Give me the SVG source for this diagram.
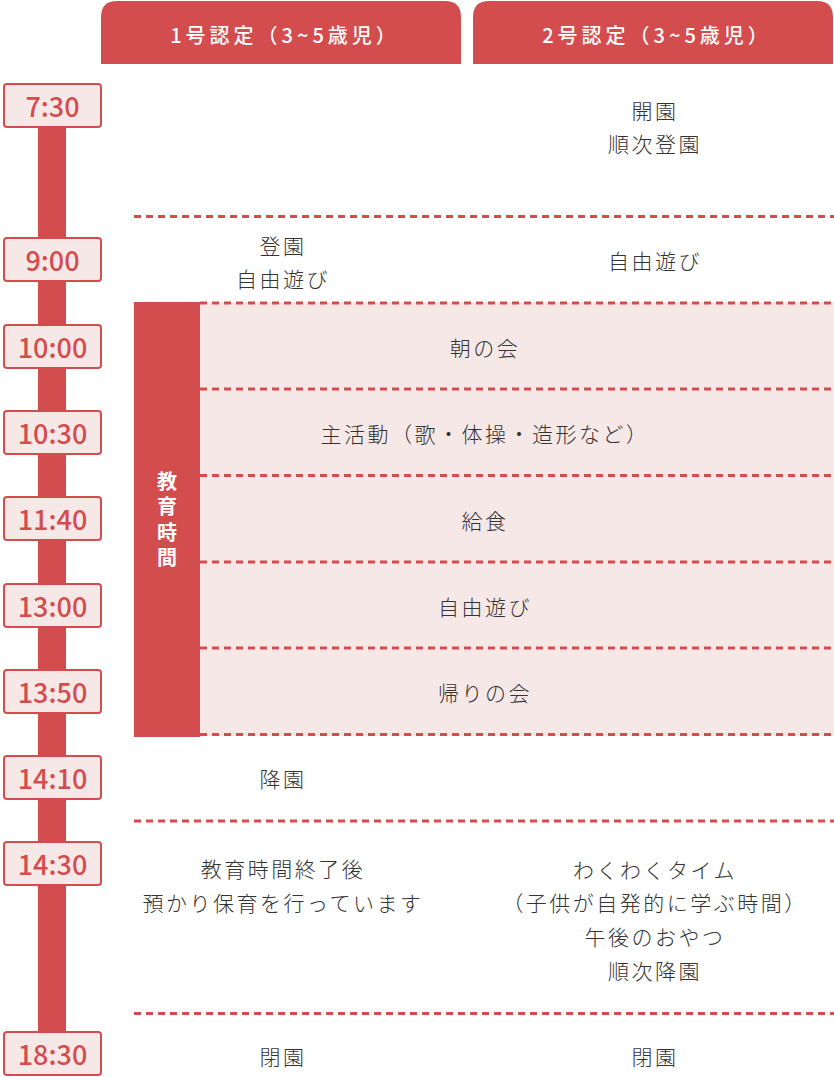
<svg xmlns="http://www.w3.org/2000/svg" width="834" height="1077" viewBox="0 0 834 1077">
<style>
.hdr{fill:#d44d4e}
.hdrt{fill:#fff;font-family:"Noto Sans CJK JP","Noto Sans",sans-serif;font-size:20px;font-weight:500;letter-spacing:4px;text-anchor:middle;dominant-baseline:central}
.badge rect{fill:#f7e8e8;stroke:#d44d4e;stroke-width:2}
.badge text{fill:#d44d4e;font-family:"Noto Sans CJK JP","Noto Sans",sans-serif;font-size:27px;font-weight:500;text-anchor:middle;dominant-baseline:central}
.t{fill:#333;font-family:"Noto Sans CJK JP","Noto Sans",sans-serif;font-size:21px;font-weight:300;letter-spacing:2.5px;text-anchor:middle;dominant-baseline:central}
.dash{stroke:#d44d4e;stroke-width:3;stroke-dasharray:7 5;fill:none}
.vt{fill:#fff;font-family:"Noto Sans CJK JP","Noto Sans",sans-serif;font-size:20px;font-weight:700;letter-spacing:5.5px;text-anchor:middle;writing-mode:vertical-rl}
</style>
<rect width="834" height="1077" fill="#fff"/>
<g id="header1"><path class="hdr" d="M101 64V17Q101 1 117 1H445Q461 1 461 17V64Z"/><text class="hdrt" x="285" y="34">1号認定（3~5歳児）</text></g>
<g id="header2"><path class="hdr" d="M473 64V17Q473 1 489 1H817Q833 1 833 17V64Z"/><text class="hdrt" x="657" y="34">2号認定（3~5歳児）</text></g>
<g id="timeline-bar"><rect x="38" y="105" width="28" height="948" fill="#d44d4e"/></g>
<g id="education-block">
<rect x="200" y="302" width="634" height="434" fill="#f7e8e8"/>
<rect x="134" y="302" width="66" height="435" fill="#d44d4e"/>
<text class="vt" x="167" y="522">教育時間</text>
</g>
<g id="connectors">
<line class="dash" x1="134" y1="216.5" x2="834" y2="216.5"/>
<line class="dash" x1="200" y1="303" x2="834" y2="303"/>
<line class="dash" x1="200" y1="389" x2="834" y2="389"/>
<line class="dash" x1="200" y1="475.5" x2="834" y2="475.5"/>
<line class="dash" x1="200" y1="562" x2="834" y2="562"/>
<line class="dash" x1="200" y1="648" x2="834" y2="648"/>
<line class="dash" x1="200" y1="734.5" x2="834" y2="734.5"/>
<line class="dash" x1="134" y1="821" x2="834" y2="821"/>
<line class="dash" x1="134" y1="1013.5" x2="834" y2="1013.5"/>
</g>
<g id="t0730" class="badge"><rect x="4" y="84" width="97" height="43" rx="3"/><text x="52.5" y="105.5">7:30</text></g>
<g id="t0900" class="badge"><rect x="4" y="238" width="97" height="43" rx="3"/><text x="52.5" y="259.5">9:00</text></g>
<g id="t1000" class="badge"><rect x="4" y="325" width="97" height="43" rx="3"/><text x="52.5" y="346.5">10:00</text></g>
<g id="t1030" class="badge"><rect x="4" y="411" width="97" height="43" rx="3"/><text x="52.5" y="432.5">10:30</text></g>
<g id="t1140" class="badge"><rect x="4" y="497" width="97" height="43" rx="3"/><text x="52.5" y="518.5">11:40</text></g>
<g id="t1300" class="badge"><rect x="4" y="584" width="97" height="43" rx="3"/><text x="52.5" y="605.5">13:00</text></g>
<g id="t1350" class="badge"><rect x="4" y="670" width="97" height="43" rx="3"/><text x="52.5" y="691.5">13:50</text></g>
<g id="t1410" class="badge"><rect x="4" y="756" width="97" height="43" rx="3"/><text x="52.5" y="777.5">14:10</text></g>
<g id="t1430" class="badge"><rect x="4" y="842" width="97" height="43" rx="3"/><text x="52.5" y="863.5">14:30</text></g>
<g id="t1830" class="badge"><rect x="4" y="1032" width="97" height="43" rx="3"/><text x="52.5" y="1053.5">18:30</text></g>
<g id="texts">
<text class="t" x="655" y="110">開園</text>
<text class="t" x="655" y="143">順次登園</text>
<text class="t" x="283" y="245">登園</text>
<text class="t" x="283" y="278">自由遊び</text>
<text class="t" x="655" y="260">自由遊び</text>
<text class="t" x="485" y="347">朝の会</text>
<text class="t" x="485" y="433">主活動（歌・体操・造形など）</text>
<text class="t" x="485" y="520">給食</text>
<text class="t" x="485" y="606">自由遊び</text>
<text class="t" x="485" y="692">帰りの会</text>
<text class="t" x="283" y="778">降園</text>
<text class="t" x="283" y="868">教育時間終了後</text>
<text class="t" x="283" y="902">預かり保育を行っています</text>
<text class="t" x="655" y="869">わくわくタイム</text>
<text class="t" x="655" y="902">（子供が自発的に学ぶ時間）</text>
<text class="t" x="655" y="936">午後のおやつ</text>
<text class="t" x="655" y="970">順次降園</text>
<text class="t" x="283" y="1056">閉園</text>
<text class="t" x="655" y="1056">閉園</text>
</g>
</svg>
